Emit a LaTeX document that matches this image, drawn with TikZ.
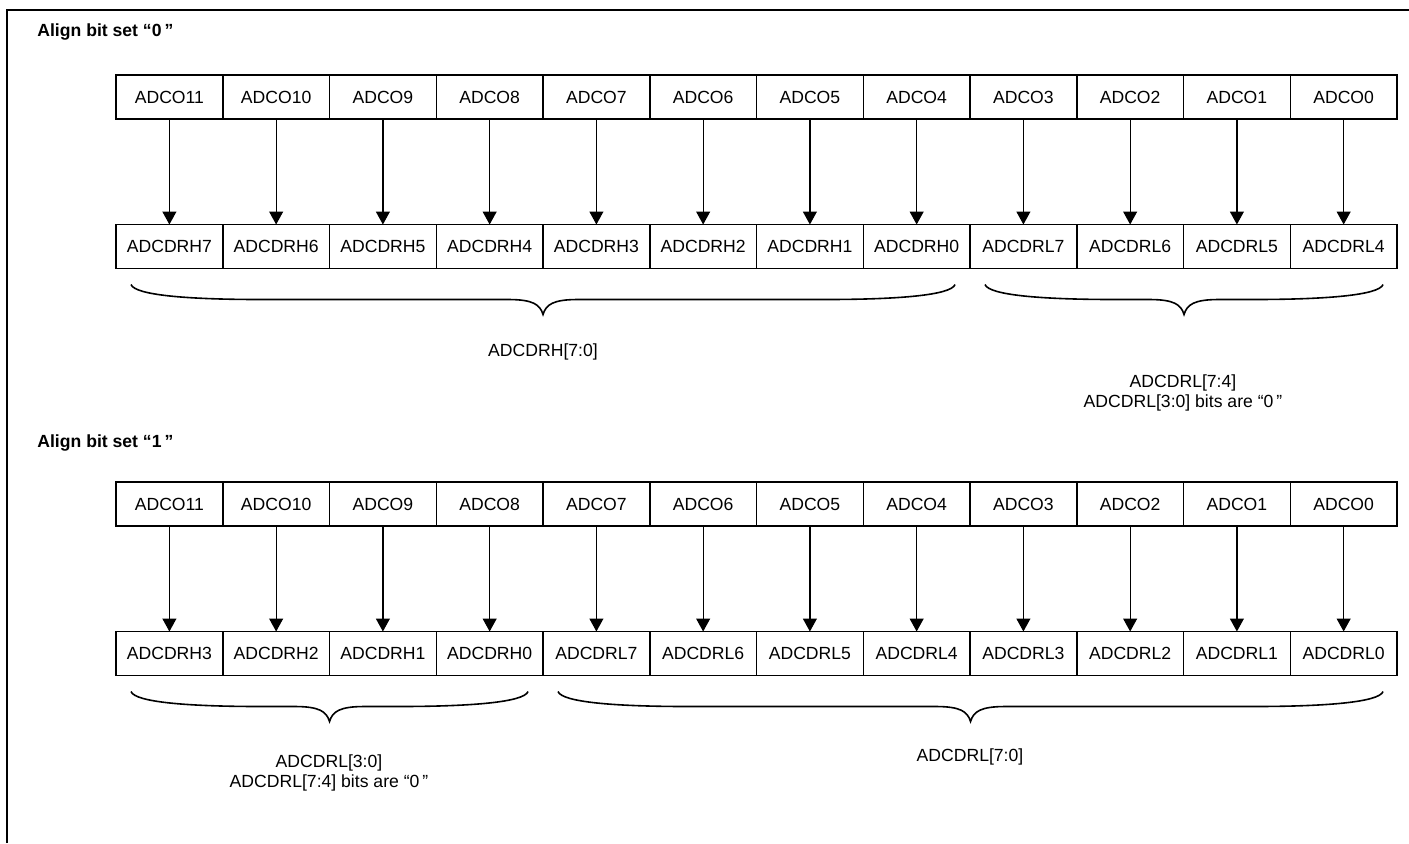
\documentclass[tikz,border=0pt]{standalone}
\usepackage{fontspec}
\setmainfont{Liberation Sans}
\usetikzlibrary{arrows.meta,positioning,calc}
\newcommand{\qt}[1]{“#1\,”}
% curly brace hanging under two end points
\newcommand{\curly}[2]{%
  \coordinate (mid) at ($(#1)!0.5!(#2)$);
  \draw[brace] (#1) .. controls +(4,11) and +(-70,0) .. ($(#1)+(130,15)$)
    -- ($(mid)+(-35,15)$) .. controls +(25,0) and +(-3,-10) .. ($(mid)+(0,30)$)
    .. controls +(3,-10) and +(-25,0) .. ($(mid)+(35,15)$)
    -- ($(#2)+(-130,15)$) .. controls +(70,0) and +(-4,11) .. (#2);}

\begin{document}
\begin{tikzpicture}[x=0.5pt,y=-0.5pt,
  font=\fontsize{8.8}{9.6}\selectfont,
  cell/.style={draw,line width=0.75pt,minimum width=53.4pt,minimum height=22pt,inner sep=0pt,outer sep=0pt},
  link/.style={line width=0.6pt,-{Triangle[width=7pt,length=6.5pt]}},
  brace/.style={line width=0.8pt},
  heading/.style={font=\fontsize{8.8}{9.6}\selectfont\bfseries,anchor=west,inner sep=0pt},
  note/.style={align=center}]
  \useasboundingbox (0,0) rectangle (1409,843);
  \draw[line width=1.3pt] (7,843) -- (7,10) -- (1409,10);
  % align bit 0
  \node[heading] (title0) at (37,32) {Align bit set \qt{0}};
  \foreach \hi/\lo [count=\i from 0] in {ADCO11/ADCDRH7,ADCO10/ADCDRH6,ADCO9/ADCDRH5,ADCO8/ADCDRH4,ADCO7/ADCDRH3,ADCO6/ADCDRH2,ADCO5/ADCDRH1,ADCO4/ADCDRH0,ADCO3/ADCDRL7,ADCO2/ADCDRL6,ADCO1/ADCDRL5,ADCO0/ADCDRL4}{
    \node[cell] (a\i) at ({169.4+106.75*\i},97) {\hi};
    \node[cell] (b\i) at ({169.4+106.75*\i},246.5) {\lo};
    \draw[link] (a\i) -- (b\i);}
  \coordinate (ba0) at ($(b0.south west)+(15,16)$);
  \coordinate (bb0) at ($(b7.south east)+(-15,16)$);
  \coordinate (bc0) at ($(b8.south west)+(15,16)$);
  \coordinate (bd0) at ($(b11.south east)+(-14,16)$);
  \curly{ba0}{bb0}
  \curly{bc0}{bd0}
  \node (high0) at (543,352) {ADCDRH[7:0]};
  \node[note] (low0) at (1183,393) {ADCDRL[7:4]\\ADCDRL[3:0] bits are \qt{0}};
  % align bit 1
  \node[heading] (title1) at (37,443) {Align bit set \qt{1}};
  \foreach \hi/\lo [count=\i from 0] in {ADCO11/ADCDRH3,ADCO10/ADCDRH2,ADCO9/ADCDRH1,ADCO8/ADCDRH0,ADCO7/ADCDRL7,ADCO6/ADCDRL6,ADCO5/ADCDRL5,ADCO4/ADCDRL4,ADCO3/ADCDRL3,ADCO2/ADCDRL2,ADCO1/ADCDRL1,ADCO0/ADCDRL0}{
    \node[cell] (c\i) at ({169.4+106.75*\i},504) {\hi};
    \node[cell] (d\i) at ({169.4+106.75*\i},653.5) {\lo};
    \draw[link] (c\i) -- (d\i);}
  \coordinate (ba1) at ($(d0.south west)+(15,16)$);
  \coordinate (bb1) at ($(d3.south east)+(-15,16)$);
  \coordinate (bc1) at ($(d4.south west)+(15,16)$);
  \coordinate (bd1) at ($(d11.south east)+(-14,16)$);
  \curly{ba1}{bb1}
  \curly{bc1}{bd1}
  \node[note] (low1) at (329,773) {ADCDRL[3:0]\\ADCDRL[7:4] bits are \qt{0}};
  \node (high1) at (970,757) {ADCDRL[7:0]};
\end{tikzpicture}
\end{document}
